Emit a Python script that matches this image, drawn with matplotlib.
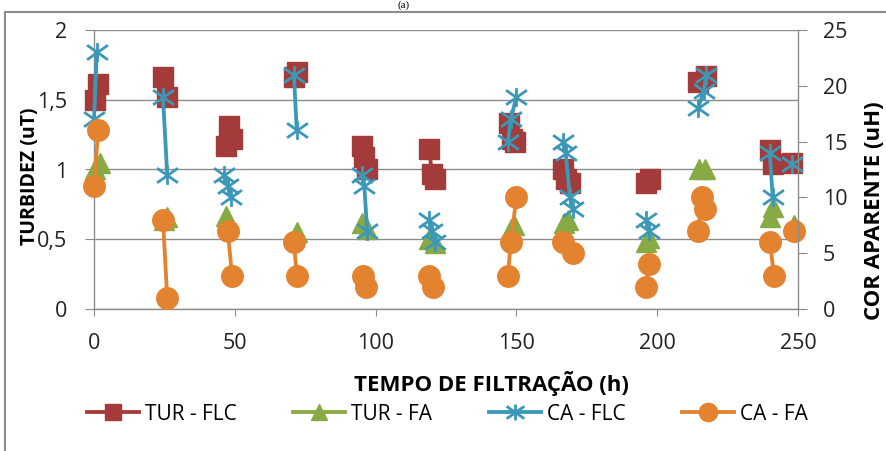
import numpy as np
import matplotlib.pyplot as plt
from matplotlib.path import Path
from matplotlib.patches import Rectangle

plt.rcParams['font.family'] = ['Open Sans', 'DejaVu Sans']

# each inner list is one group of readings (lines only join points inside a group)
tur_flc_t = [[0.5, 1.5], [24.5, 26], [47, 48, 49], [71, 72], [95, 96, 97], [119, 120, 121],
             [147.5, 148.5, 149.5], [166.5, 167.5, 169], [196, 197.5], [214.5, 217.5],
             [240, 241], [248]]
tur_flc = [[1.50, 1.61], [1.66, 1.52], [1.17, 1.31, 1.22], [1.66, 1.70], [1.17, 1.09, 1.00],
           [1.15, 0.97, 0.93], [1.33, 1.22, 1.20], [1.00, 0.93, 0.90], [0.90, 0.93],
           [1.63, 1.67], [1.14, 1.04], [1.05]]

tur_fa_t = [[0.5, 2], [25, 26], [47, 48], [72], [95, 97], [119, 121], [148, 149],
            [167, 168.5], [196, 197], [215, 217], [240, 241], [248.5]]
tur_fa = [[1.00, 1.05], [0.64, 0.66], [0.67, 0.62], [0.55], [0.62, 0.57], [0.50, 0.47],
          [0.57, 0.60], [0.62, 0.64], [0.48, 0.51], [1.00, 1.00], [0.66, 0.73], [0.60]]

ca_flc_t = [[0, 1], [24.5, 26], [46, 47.5, 48.5], [71, 72], [95, 96, 97], [119, 120, 121],
            [147, 148, 150], [166.5, 167.5, 169, 170], [196, 197], [214.5, 216.5, 217.5],
            [240, 241], [248]]
ca_flc = [[17, 23], [19, 12], [12, 11, 10], [21, 16], [12, 11, 7], [8, 7, 6], [15, 17, 19],
          [15, 14, 10, 9], [8, 7], [18, 19.5, 21], [14, 10], [13]]

ca_fa_t = [[0, 1.5], [24.5, 26], [47.5, 49], [71, 72], [95.5, 96.5], [119, 120.5],
           [147, 148, 150], [166.5, 170], [196, 197], [214.5, 216, 217], [240, 241.5], [248.5]]
ca_fa = [[11, 16], [8, 1], [7, 3], [6, 3], [3, 2], [3, 2], [3, 6, 10], [6, 5], [2, 4],
         [7, 10, 9], [6, 3], [7]]

left_ticks = [0, 0.5, 1, 1.5, 2]
left_labels = ['0', '0,5', '1', '1,5', '2']
right_ticks = [0, 5, 10, 15, 20, 25]
x_ticks = [0, 50, 100, 150, 200, 250]


def join(groups):
    out = []
    for g in groups:
        out += list(g) + [np.nan]
    return np.array(out[:-1], dtype=float)


RED = '#A33B3B'
GREEN = '#88AA45'
BLUE = '#3B98B7'
ORANGE = '#E3832F'
GRAY = '#8C8C8C'

# excel-like star: an X with a vertical bar, a bit wider than tall
star = Path([(0, -0.9), (0, 0.9), (-1, -0.7), (1, 0.7), (-1, 0.7), (1, -0.7)],
            [Path.MOVETO, Path.LINETO] * 3)

fig = plt.figure(figsize=(8.86, 4.51), dpi=100)
ax = fig.add_axes([94 / 886, 142 / 451, 704 / 886, 279 / 451])
ax2 = ax.twinx()

l1, = ax.plot(join(tur_flc_t), join(tur_flc), color=RED, lw=2.75, marker='s', ms=14,
              label='TUR - FLC', clip_on=False)
l2, = ax.plot(join(tur_fa_t), join(tur_fa), color=GREEN, lw=2.75, marker='^', ms=14,
              label='TUR - FA', clip_on=False)
l3, = ax2.plot(join(ca_flc_t), join(ca_flc), color=BLUE, lw=2.75, marker=star, ms=15,
               mew=2, label='CA - FLC', clip_on=False)
l4, = ax2.plot(join(ca_fa_t), join(ca_fa), color=ORANGE, lw=2.75, marker='o', ms=15.5,
               label='CA - FA', clip_on=False)

ax.set_xlim(0, 250)
ax.set_ylim(0, 2)
ax2.set_ylim(0, 25)
ax.set_xticks(x_ticks)
ax.set_yticks(left_ticks, left_labels)
ax2.set_yticks(right_ticks)
ax.yaxis.grid(True, color=GRAY, lw=1)
ax.set_axisbelow(True)

for a in (ax, ax2):
    for s in a.spines.values():
        s.set_visible(False)
ax.spines['left'].set_visible(True)
ax.spines['bottom'].set_visible(True)
ax2.spines['right'].set_visible(True)
for s in (ax.spines['left'], ax.spines['bottom'], ax2.spines['right']):
    s.set_color(GRAY)
    s.set_linewidth(1)

ax.tick_params(axis='y', direction='out', length=6.5, color=GRAY, labelsize=15.5, pad=13,
               labelcolor='#222222')
ax.tick_params(axis='x', direction='out', length=5, color=GRAY, labelsize=15.5, pad=12,
               labelcolor='#222222')
ax2.tick_params(axis='y', direction='out', length=6.5, color=GRAY, labelsize=15.5, pad=11.5,
                labelcolor='#222222')

ax.set_xlabel('TEMPO DE FILTRAÇÃO (h)', fontsize=16, fontweight='bold', va='center')
ax.xaxis.set_label_coords((491 - 94) / 704, (309 - 383) / 279)
ax.set_ylabel('TURBIDEZ (uT)', fontsize=14, fontweight='bold', va='center', ha='center')
ax.yaxis.set_label_coords((30 - 94) / 704, (309 - 176) / 279)
ax2.set_ylabel('COR APARENTE (uH)', fontsize=16, fontweight='bold', va='center', ha='center')
ax2.yaxis.set_label_coords((875 - 94) / 704, (309 - 211) / 279)

fig.legend(handles=[l1, l2, l3, l4], loc='center', bbox_to_anchor=(0.505, 1 - 414 / 451),
           ncol=4, frameon=False, fontsize=15, handlelength=2.5, handletextpad=0.3,
           columnspacing=2.7, markerscale=0.85)

# outer chart frame and the caption above it
fig.patches.append(Rectangle((5 / 886, -0.1), 1.2, 1.1 - 12 / 451, transform=fig.transFigure,
                             fill=False, ec=GRAY, lw=1.5))
fig.text(404 / 886, 1 - 0.5 / 451, '(a)', ha='center', va='top', fontsize=8,
         family='Liberation Serif')

fig.savefig('out.png', dpi=100)
